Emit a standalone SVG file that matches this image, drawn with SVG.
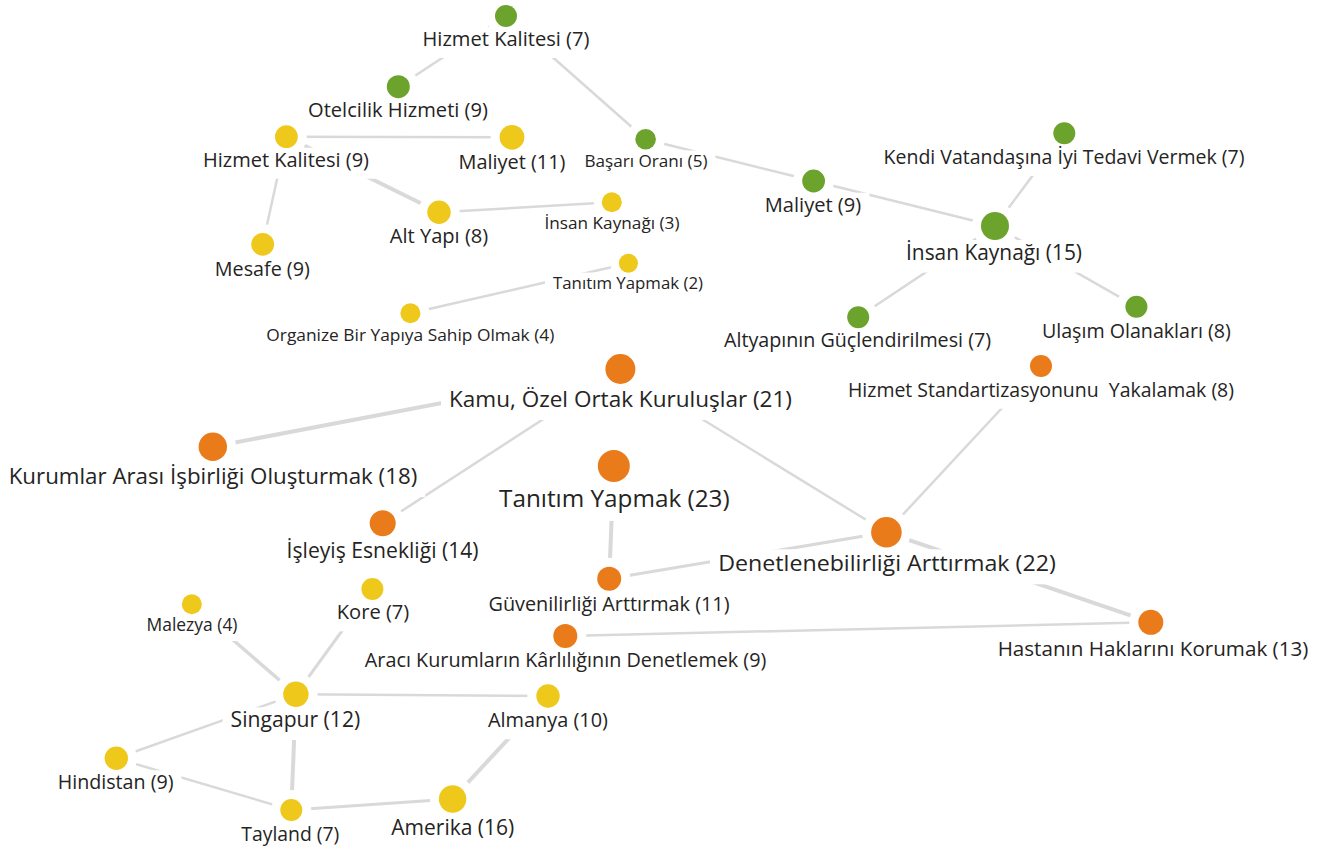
<svg xmlns="http://www.w3.org/2000/svg" width="1330" height="852" viewBox="0 0 1330 852">
  <style>
    .edge { stroke: #d9d9d9; stroke-width: 2.5; fill: none; stroke-linecap: butt; }
    .thick { stroke-width: 4; }
    .ko { fill: #ffffff; }
    .green { fill: #6ca32c; }
    .yellow { fill: #efc81c; }
    .orange { fill: #ea7b1b; }
    text { font-family: "Open Sans", "Noto Sans", "DejaVu Sans", sans-serif; fill: #252423; text-anchor: middle; }
  </style>
  <rect width="1330" height="852" fill="#ffffff"/>

  <!-- connectors, centre to centre; the knockout layer trims them at circles and labels -->
  <g id="connectors">
    <line class="edge" x1="506" y1="16" x2="398.3" y2="86.7"/>
    <line class="edge" x1="506" y1="16" x2="645.6" y2="139.3"/>
    <line class="edge" x1="645.6" y1="139.3" x2="813.6" y2="181"/>
    <line class="edge" x1="813.6" y1="181" x2="995" y2="226"/>
    <line class="edge" x1="1064.3" y1="133.3" x2="995" y2="226"/>
    <line class="edge" x1="995" y1="226" x2="858.2" y2="317.3"/>
    <line class="edge" x1="995" y1="226" x2="1136.4" y2="306.7"/>
    <line class="edge" x1="286.4" y1="136.7" x2="512" y2="137.3"/>
    <line class="edge" x1="286.4" y1="136.7" x2="262.7" y2="244.3"/>
    <line class="edge thick" x1="286.4" y1="136.7" x2="439" y2="212.3"/>
    <line class="edge" x1="439" y1="212.3" x2="611.8" y2="202.3"/>
    <line class="edge" x1="628.4" y1="263.3" x2="410.4" y2="313.3"/>
    <line class="edge thick" x1="620.4" y1="369" x2="212.8" y2="446.7"/>
    <line class="edge" x1="620.4" y1="369" x2="382.7" y2="523.3"/>
    <line class="edge" x1="620.4" y1="369" x2="886.4" y2="532.3"/>
    <line class="edge" x1="1041" y1="366" x2="886.4" y2="532.3"/>
    <line class="edge thick" x1="613.8" y1="466" x2="609.2" y2="578.7"/>
    <line class="edge" style="stroke-width:3" x1="609.2" y1="578.7" x2="886.4" y2="532.3"/>
    <line class="edge thick" x1="886.4" y1="532.3" x2="1150.8" y2="622.3"/>
    <line class="edge" x1="565.3" y1="636" x2="1150.8" y2="622.3"/>
    <line class="edge" style="stroke-width:3.5" x1="191.8" y1="604.3" x2="295.9" y2="694.3"/>
    <line class="edge" style="stroke-width:3" x1="372.4" y1="589" x2="295.9" y2="694.3"/>
    <line class="edge" x1="295.9" y1="694.3" x2="548" y2="696"/>
    <line class="edge" x1="295.9" y1="694.3" x2="116.3" y2="758.3"/>
    <line class="edge thick" x1="295.9" y1="694.3" x2="291.3" y2="810"/>
    <line class="edge" x1="116.3" y1="758.3" x2="291.3" y2="810"/>
    <line class="edge" style="stroke-width:3" x1="291.3" y1="810" x2="452.6" y2="799"/>
    <line class="edge thick" x1="548" y1="696" x2="452.6" y2="799"/>
  </g>

  <!-- white knockouts behind circles and labels -->
  <g id="knockouts" class="ko">
    <circle cx="506" cy="16" r="20"/><rect x="414" y="27" width="183" height="31"/>
    <circle cx="398.3" cy="86.7" r="20.5"/><rect x="300" y="98" width="196" height="31"/>
    <circle cx="645.6" cy="139.3" r="19.3"/><rect x="576.5" y="150.5" width="139" height="26.4"/>
    <circle cx="813.6" cy="181" r="20.4"/><rect x="757" y="192.7" width="112.4" height="31"/>
    <circle cx="1064.3" cy="133.3" r="20"/><rect x="875.5" y="145" width="377" height="31"/>
    <circle cx="995" cy="226" r="23"/><rect x="898" y="240" width="192" height="32.6"/>
    <circle cx="858.2" cy="317.3" r="20"/><rect x="716" y="328.3" width="283" height="31"/>
    <circle cx="1136.4" cy="306.7" r="20"/><rect x="1034" y="318.7" width="205" height="31"/>
    <circle cx="286.4" cy="136.7" r="20.4"/><rect x="195" y="147.7" width="182" height="31"/>
    <circle cx="512" cy="137.3" r="21.4"/><rect x="450.5" y="150" width="123" height="31"/>
    <circle cx="439" cy="212.3" r="20.7"/><rect x="381.7" y="223.7" width="114.5" height="31"/>
    <circle cx="611.8" cy="202.3" r="18"/><rect x="536.5" y="213.2" width="151" height="26.4"/>
    <circle cx="262.7" cy="244.3" r="20.4"/><rect x="206.8" y="257" width="111" height="31"/>
    <circle cx="628.4" cy="263.3" r="18"/><rect x="545" y="272.6" width="166" height="26.4"/>
    <circle cx="410.4" cy="313.3" r="19"/><rect x="258.3" y="324.6" width="304" height="26.4"/>
    <circle cx="620.4" cy="369" r="24"/><rect x="441" y="370" width="359" height="50"/>
    <circle cx="212.8" cy="446.7" r="23.2"/><rect x="0.7" y="463" width="424.6" height="34"/>
    <circle cx="613.8" cy="466" r="25"/><rect x="491" y="483.9" width="246.6" height="37"/>
    <circle cx="382.7" cy="523.3" r="22"/><rect x="278.6" y="538.4" width="208" height="32.6"/>
    <circle cx="609.2" cy="578.7" r="21"/><rect x="480.5" y="591.7" width="257" height="31"/>
    <circle cx="886.4" cy="532.3" r="24.3"/><rect x="710" y="549.3" width="353.5" height="35"/>
    <circle cx="1041" cy="366" r="20"/><rect x="840" y="377.7" width="402" height="31"/>
    <circle cx="1150.8" cy="622.3" r="21.5"/><rect x="990" y="636.5" width="326.7" height="32"/>
    <circle cx="565.3" cy="636" r="21"/><rect x="357" y="648.3" width="417.5" height="31"/>
    <circle cx="372.4" cy="589" r="20"/><rect x="328.7" y="600.3" width="88.5" height="31"/>
    <circle cx="191.8" cy="604.3" r="19"/><rect x="138.5" y="614" width="107" height="27"/>
    <circle cx="295.9" cy="694.3" r="21.7"/><rect x="222.6" y="707.4" width="145.6" height="32.6"/>
    <circle cx="548" cy="696" r="20.7"/><rect x="480" y="708.3" width="136" height="31"/>
    <circle cx="116.3" cy="758.3" r="20.7"/><rect x="49.7" y="770.3" width="131.8" height="31"/>
    <circle cx="291.3" cy="810" r="20"/><rect x="233.3" y="822" width="114" height="30"/>
    <circle cx="452.6" cy="799" r="22.7"/><rect x="383.3" y="815" width="139" height="32.6"/>
  </g>

  <!-- green cluster -->
  <g id="hizmet-kalitesi-7"><circle class="green" cx="506" cy="16" r="11"/><text x="506" y="46" font-size="20" textLength="167" lengthAdjust="spacingAndGlyphs">Hizmet Kalitesi (7)</text></g>
  <g id="otelcilik-hizmeti"><circle class="green" cx="398.3" cy="86.7" r="11.5"/><text x="398" y="117" font-size="20" textLength="180" lengthAdjust="spacingAndGlyphs">Otelcilik Hizmeti (9)</text></g>
  <g id="basari-orani"><circle class="green" cx="645.6" cy="139.3" r="10.3"/><text x="646" y="166.7" font-size="17" textLength="123" lengthAdjust="spacingAndGlyphs">Başarı Oranı (5)</text></g>
  <g id="maliyet-9"><circle class="green" cx="813.6" cy="181" r="11.4"/><text x="813" y="211.7" font-size="20" textLength="96.4" lengthAdjust="spacingAndGlyphs">Maliyet (9)</text></g>
  <g id="kendi-vatandasina"><circle class="green" cx="1064.3" cy="133.3" r="11"/><text x="1064" y="164" font-size="20" textLength="361" lengthAdjust="spacingAndGlyphs">Kendi Vatandaşına İyi Tedavi Vermek (7)</text></g>
  <g id="insan-kaynagi-15"><circle class="green" cx="995" cy="226" r="14"/><text x="994" y="260" font-size="21" textLength="176" lengthAdjust="spacingAndGlyphs">İnsan Kaynağı (15)</text></g>
  <g id="altyapinin-guclendirilmesi"><circle class="green" cx="858.2" cy="317.3" r="11"/><text x="857.5" y="347.3" font-size="20" textLength="267" lengthAdjust="spacingAndGlyphs">Altyapının Güçlendirilmesi (7)</text></g>
  <g id="ulasim-olanaklari"><circle class="green" cx="1136.4" cy="306.7" r="11"/><text x="1136.4" y="337.7" font-size="20" textLength="189" lengthAdjust="spacingAndGlyphs">Ulaşım Olanakları (8)</text></g>

  <!-- yellow cluster, top -->
  <g id="hizmet-kalitesi-9"><circle class="yellow" cx="286.4" cy="136.7" r="11.4"/><text x="286" y="166.7" font-size="20" textLength="166" lengthAdjust="spacingAndGlyphs">Hizmet Kalitesi (9)</text></g>
  <g id="maliyet-11"><circle class="yellow" cx="512" cy="137.3" r="12.4"/><text x="512" y="169" font-size="20" textLength="107" lengthAdjust="spacingAndGlyphs">Maliyet (11)</text></g>
  <g id="alt-yapi"><circle class="yellow" cx="439" cy="212.3" r="11.7"/><text x="439" y="242.7" font-size="20" textLength="98.5" lengthAdjust="spacingAndGlyphs">Alt Yapı (8)</text></g>
  <g id="insan-kaynagi-3"><circle class="yellow" cx="611.8" cy="202.3" r="10"/><text x="612" y="229.3" font-size="17" textLength="135" lengthAdjust="spacingAndGlyphs">İnsan Kaynağı (3)</text></g>
  <g id="mesafe"><circle class="yellow" cx="262.7" cy="244.3" r="11.4"/><text x="262.3" y="276" font-size="20" textLength="95" lengthAdjust="spacingAndGlyphs">Mesafe (9)</text></g>
  <g id="tanitim-yapmak-2"><circle class="yellow" cx="628.4" cy="263.3" r="9.5"/><text x="628" y="288.7" font-size="17" textLength="150" lengthAdjust="spacingAndGlyphs">Tanıtım Yapmak (2)</text></g>
  <g id="organize-bir-yapi"><circle class="yellow" cx="410.4" cy="313.3" r="10"/><text x="410.3" y="340.7" font-size="17" textLength="288" lengthAdjust="spacingAndGlyphs">Organize Bir Yapıya Sahip Olmak (4)</text></g>

  <!-- orange cluster -->
  <g id="kamu-ozel"><circle class="orange" cx="620.4" cy="369" r="15"/><text x="620.5" y="406.7" font-size="22" textLength="343" lengthAdjust="spacingAndGlyphs">Kamu, Özel Ortak Kuruluşlar (21)</text></g>
  <g id="kurumlar-arasi"><circle class="orange" cx="212.8" cy="446.7" r="14.2"/><text x="213" y="484" font-size="22" textLength="408.6" lengthAdjust="spacingAndGlyphs">Kurumlar Arası İşbirliği Oluşturmak (18)</text></g>
  <g id="tanitim-yapmak-23"><circle class="orange" cx="613.8" cy="466" r="16"/><text x="614.3" y="506.7" font-size="24" textLength="230.6" lengthAdjust="spacingAndGlyphs">Tanıtım Yapmak (23)</text></g>
  <g id="isleyis-esnekligi"><circle class="orange" cx="382.7" cy="523.3" r="13"/><text x="382.6" y="558.3" font-size="21" textLength="192" lengthAdjust="spacingAndGlyphs">İşleyiş Esnekliği (14)</text></g>
  <g id="guvenilirligi"><circle class="orange" cx="609.2" cy="578.7" r="12"/><text x="609" y="610.7" font-size="20" textLength="241" lengthAdjust="spacingAndGlyphs">Güvenilirliği Arttırmak (11)</text></g>
  <g id="denetlenebilirligi"><circle class="orange" cx="886.4" cy="532.3" r="15.3"/><text x="887" y="570.7" font-size="22.5" textLength="337.5" lengthAdjust="spacingAndGlyphs">Denetlenebilirliği Arttırmak (22)</text></g>
  <g id="hizmet-standartizasyonu"><circle class="orange" cx="1041" cy="366" r="11"/><text x="1041" y="396.7" font-size="20" textLength="386" lengthAdjust="spacingAndGlyphs" xml:space="preserve" style="white-space:pre">Hizmet Standartizasyonunu  Yakalamak (8)</text></g>
  <g id="hastanin-haklari"><circle class="orange" cx="1150.8" cy="622.3" r="12.5"/><text x="1153" y="656" font-size="20.5" textLength="310.7" lengthAdjust="spacingAndGlyphs">Hastanın Haklarını Korumak (13)</text></g>
  <g id="araci-kurumlar"><circle class="orange" cx="565.3" cy="636" r="12"/><text x="565.6" y="667.3" font-size="20" textLength="401.5" lengthAdjust="spacingAndGlyphs">Aracı Kurumların Kârlılığının Denetlemek (9)</text></g>

  <!-- yellow cluster, bottom -->
  <g id="kore"><circle class="yellow" cx="372.4" cy="589" r="11"/><text x="373" y="619.3" font-size="20" textLength="72.5" lengthAdjust="spacingAndGlyphs">Kore (7)</text></g>
  <g id="malezya"><circle class="yellow" cx="191.8" cy="604.3" r="10"/><text x="192" y="630.7" font-size="17.5" textLength="91" lengthAdjust="spacingAndGlyphs">Malezya (4)</text></g>
  <g id="singapur"><circle class="yellow" cx="295.9" cy="694.3" r="12.7"/><text x="295.4" y="727.3" font-size="21" textLength="129.6" lengthAdjust="spacingAndGlyphs">Singapur (12)</text></g>
  <g id="almanya"><circle class="yellow" cx="548" cy="696" r="11.7"/><text x="548" y="727.3" font-size="20" textLength="120" lengthAdjust="spacingAndGlyphs">Almanya (10)</text></g>
  <g id="hindistan"><circle class="yellow" cx="116.3" cy="758.3" r="11.7"/><text x="115.6" y="789.3" font-size="20" textLength="115.8" lengthAdjust="spacingAndGlyphs">Hindistan (9)</text></g>
  <g id="tayland"><circle class="yellow" cx="291.3" cy="810" r="11"/><text x="290.3" y="840.7" font-size="19.5" textLength="98" lengthAdjust="spacingAndGlyphs">Tayland (7)</text></g>
  <g id="amerika"><circle class="yellow" cx="452.6" cy="799" r="13.7"/><text x="452.8" y="835" font-size="21" textLength="123" lengthAdjust="spacingAndGlyphs">Amerika (16)</text></g>
</svg>
